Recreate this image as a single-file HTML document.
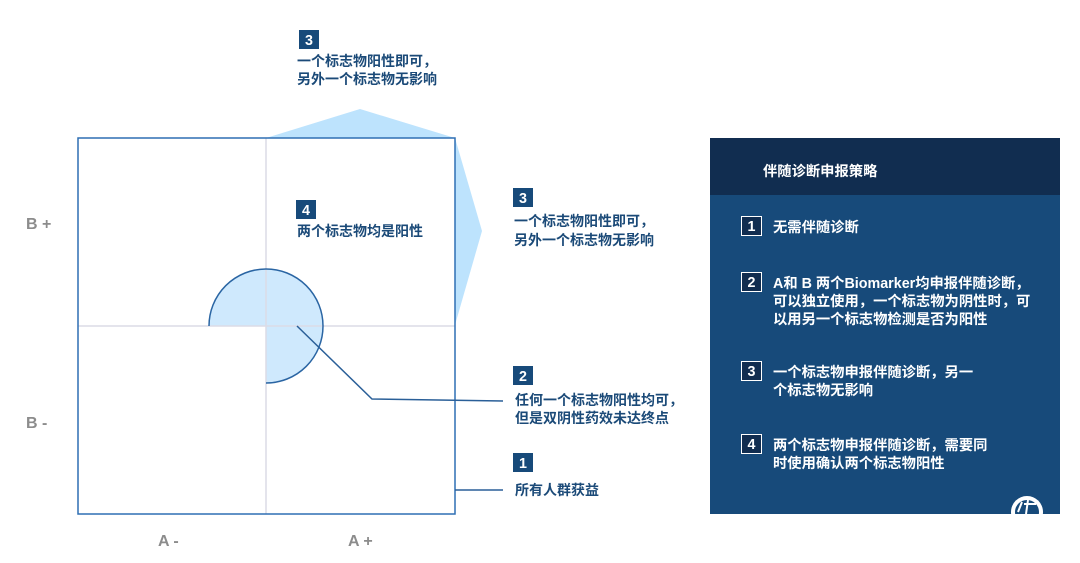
<!DOCTYPE html>
<html><head><meta charset="utf-8"><style>
html,body{margin:0;padding:0;background:#fff;width:1080px;height:563px;overflow:hidden}
svg{display:block}
text{font-family:"Liberation Sans","Noto Sans CJK SC",sans-serif;font-weight:bold}
.t{fill:#1b4a78;font-size:14px}
.w{fill:#fff;font-size:14.3px}
.g{fill:#8c8c8c;font-size:16px}
</style></head><body>
<svg width="1080" height="563" viewBox="0 0 1080 563">
<polygon points="266,138 360,109 455,138" fill="#bde3fd"/>
<polygon points="455,138 482,231 455,325" fill="#bde3fd"/>
<rect x="78" y="138" width="377" height="376" fill="#fff"/>
<path d="M266,326 L209,326 A57,57 0 1 1 266,383 Z" fill="#cfe9fd"/>
<line x1="266" y1="138" x2="266" y2="514" stroke="#dcdce6" stroke-width="1.5"/>
<line x1="78" y1="326" x2="455" y2="326" stroke="#dcdce6" stroke-width="1.5"/>
<path d="M209,326 A57,57 0 1 1 266,383" fill="none" stroke="#2a65a3" stroke-width="1.5"/>
<rect x="78" y="138" width="377" height="376" fill="none" stroke="#2e6fb4" stroke-width="1.5"/>
<polyline points="297,326 372,399 503,401" fill="none" stroke="#2a5f98" stroke-width="1.5"/>
<line x1="455" y1="490" x2="503" y2="490" stroke="#2a5f98" stroke-width="1.5"/>

<rect x="299" y="30" width="20" height="19" fill="#174a7a"/><text x="309" y="45" text-anchor="middle" class="w" font-size="12">3</text>
<text x="297" y="66" class="t">一个标志物阳性即可，</text>
<text x="297" y="84" class="t">另外一个标志物无影响</text>

<rect x="296" y="200" width="20" height="19" fill="#174a7a"/><text x="306" y="215" text-anchor="middle" class="w" font-size="12">4</text>
<text x="297" y="236" class="t">两个标志物均是阳性</text>

<rect x="513" y="188" width="20" height="19" fill="#174a7a"/><text x="523" y="203" text-anchor="middle" class="w" font-size="12">3</text>
<text x="514" y="226" class="t">一个标志物阳性即可，</text>
<text x="514" y="245" class="t">另外一个标志物无影响</text>

<rect x="513" y="366" width="20" height="19" fill="#174a7a"/><text x="523" y="381" text-anchor="middle" class="w" font-size="12">2</text>
<text x="515" y="405" class="t">任何一个标志物阳性均可，</text>
<text x="515" y="423" class="t">但是双阴性药效未达终点</text>

<rect x="513" y="453" width="20" height="19" fill="#174a7a"/><text x="523" y="468" text-anchor="middle" class="w" font-size="12">1</text>
<text x="515" y="495" class="t">所有人群获益</text>

<text x="26" y="229" class="g">B +</text>
<text x="26" y="428" class="g">B -</text>
<text x="158" y="546" class="g">A -</text>
<text x="348" y="546" class="g">A +</text>

<rect x="710" y="138" width="350" height="376" fill="#174a7a"/>
<rect x="710" y="138" width="350" height="57" fill="#112d50"/>
<text x="763" y="176" class="w">伴随诊断申报策略</text>
<g fill="#112d50" stroke="#fff" stroke-width="1">
<rect x="741.5" y="216.5" width="20" height="19"/>
<rect x="741.5" y="272.5" width="20" height="19"/>
<rect x="741.5" y="361.5" width="20" height="19"/>
<rect x="741.5" y="434.5" width="20" height="19"/>
</g>
<text x="751.5" y="231" text-anchor="middle" class="w" font-size="12">1</text>
<text x="751.5" y="287" text-anchor="middle" class="w" font-size="12">2</text>
<text x="751.5" y="376" text-anchor="middle" class="w" font-size="12">3</text>
<text x="751.5" y="449" text-anchor="middle" class="w" font-size="12">4</text>
<text x="773" y="232" class="w">无需伴随诊断</text>
<text x="773" y="288" class="w">A和 B 两个Biomarker均申报伴随诊断，</text>
<text x="773" y="306" class="w">可以独立使用，一个标志物为阴性时，可</text>
<text x="773" y="324" class="w">以用另一个标志物检测是否为阳性</text>
<text x="773" y="377" class="w">一个标志物申报伴随诊断，另一</text>
<text x="773" y="395" class="w">个标志物无影响</text>
<text x="773" y="450" class="w">两个标志物申报伴随诊断，需要同</text>
<text x="773" y="468" class="w">时使用确认两个标志物阳性</text>
<clipPath id="c"><rect x="1000" y="480" width="60" height="34"/></clipPath>
<g clip-path="url(#c)"><circle cx="1027" cy="512" r="16" fill="#fff"/><circle cx="1027" cy="512" r="12" fill="#174a7a"/>
<path d="M1018,512 L1022,502 M1026,514 L1028,500 M1024,504 L1036,504" stroke="#fff" stroke-width="2" fill="none"/></g>
</svg>
</body></html>
